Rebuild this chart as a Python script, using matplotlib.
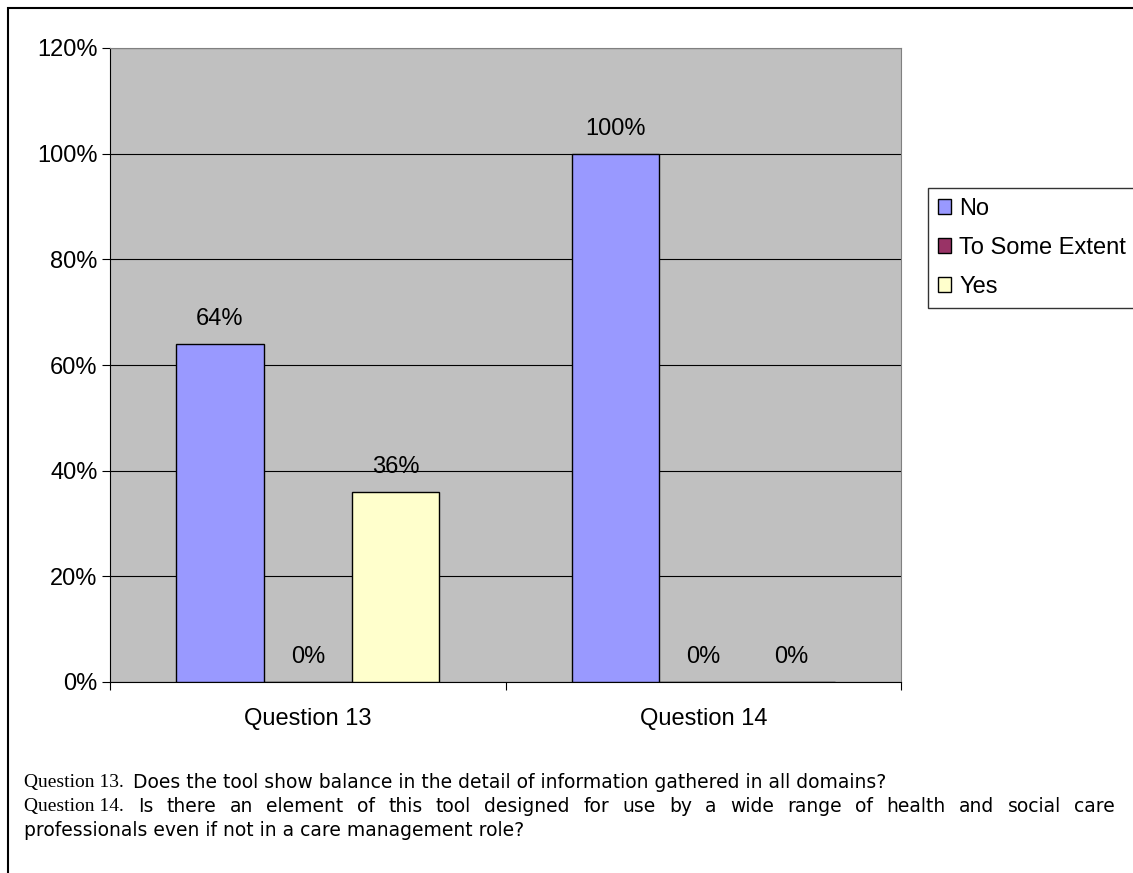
import matplotlib
matplotlib.use("Agg")
import matplotlib.pyplot as plt
from matplotlib.patches import Rectangle, Patch
import numpy as np

categories = ["Question 13", "Question 14"]
series_names = ["No", "To Some Extent", "Yes"]
no_vals = [0.64, 1.00]
some_vals = [0.00, 0.00]
yes_vals = [0.36, 0.00]
y_ticks = [0.0, 0.2, 0.4, 0.6, 0.8, 1.0, 1.2]
colors = ["#9999FF", "#993366", "#FFFFCC"]

W, H = 1133, 873
FS = 17
SANS = "Liberation Sans"

fig = plt.figure(figsize=(W / 100, H / 100), dpi=100)
fig.patch.set_facecolor("white")

# outer frame
fig.patches.append(Rectangle((8 / W, -0.1), 1.2, (H - 8) / H + 0.1,
                             transform=fig.transFigure, fill=False,
                             edgecolor="black", linewidth=1.5))

ax = fig.add_axes([110 / W, 1 - 682 / H, (901 - 110) / W, (682 - 48) / H])
ax.set_facecolor("#C0C0C0")

x = np.arange(len(categories))
bw = 0.222
series = [no_vals, some_vals, yes_vals]
for i, (vals, name, col) in enumerate(zip(series, series_names, colors)):
    pos = x + (i - 1) * bw
    ax.bar(pos, vals, width=bw, color=col, edgecolor="black",
           linewidth=1.0, label=name, zorder=3)
    for p, v in zip(pos, vals):
        ax.annotate(f"{v * 100:.0f}%", (p, v), xytext=(0, 18),
                    textcoords="offset points", ha="center", va="center",
                    fontsize=FS, family=SANS, zorder=4)

ax.set_xlim(-0.5, 1.5)
ax.set_ylim(0, 1.2)
ax.set_yticks(y_ticks)
ax.set_yticklabels([f"{t * 100:.0f}%" for t in y_ticks], fontsize=FS, family=SANS)
ax.yaxis.grid(True, color="black", linewidth=0.8, zorder=1)
ax.set_axisbelow(True)

ax.set_xticks([-0.5, 0.5, 1.5], minor=False)
ax.set_xticklabels([])
ax.set_xticks(x, minor=True)
ax.set_xticklabels(categories, minor=True, fontsize=FS, family=SANS)
ax.tick_params(axis="x", which="major", length=6, direction="out", color="black")
ax.tick_params(axis="x", which="minor", length=0, pad=19)
ax.tick_params(axis="y", length=6, direction="out", pad=3)

for side in ["top", "right"]:
    ax.spines[side].set_color("#808080")
for side in ["left", "bottom"]:
    ax.spines[side].set_color("black")

handles = [Patch(facecolor=c, edgecolor="black", label=n)
           for c, n in zip(colors, series_names)]
leg = fig.legend(handles=handles, loc="upper left",
                 bbox_to_anchor=(928 / W, 1 - 188 / H),
                 prop={"family": SANS, "size": FS},
                 frameon=True, fancybox=False, edgecolor="black",
                 handlelength=0.55, handleheight=0.55, handletextpad=0.35,
                 labelspacing=0.72, borderpad=0.42, borderaxespad=0)
leg.get_frame().set_linewidth(1.0)

# question notes beneath the chart
NOTE_FS = 13.5
LEFT = 24
RIGHT = 1115
renderer = fig.canvas.get_renderer()


def put(xpx, ypx, s, family, size=NOTE_FS):
    t = fig.text(xpx / W, 1 - ypx / H, s, fontsize=size, family=family,
                 va="center", ha="left")
    return t, t.get_window_extent(renderer=renderer).width


# line 1
t, w = put(LEFT, 782, "Question 13.", "Liberation Serif", 14)
put(LEFT + w + 9, 782,
    "Does the tool show balance in the detail of information gathered in all domains?",
    "DejaVu Sans")

# line 2, justified to the right margin
t, w = put(LEFT, 806, "Question 14.", "Liberation Serif", 14)
words = "Is there an element of this tool designed for use by a wide range of health and social care".split()
start = LEFT + w + 14
texts = []
widths = []
for wd in words:
    tt, ww = put(0, 806, wd, "DejaVu Sans")
    texts.append(tt)
    widths.append(ww)
gap = (RIGHT - start - sum(widths)) / (len(words) - 1)
xc = start
for tt, ww in zip(texts, widths):
    tt.set_x(xc / W)
    xc += ww + gap

# line 3
put(LEFT, 830, "professionals even if not in a care management role?", "DejaVu Sans")

fig.savefig("out.png", dpi=100)
